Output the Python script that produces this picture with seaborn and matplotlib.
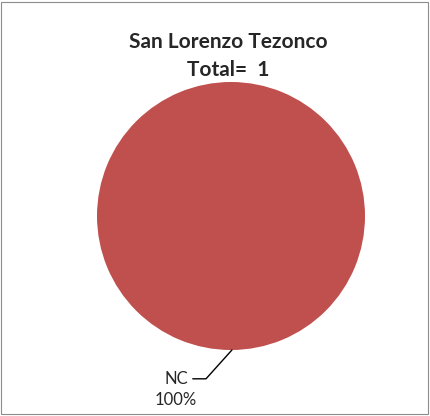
import matplotlib
matplotlib.use("Agg")
import matplotlib.pyplot as plt
import seaborn as sns
from matplotlib.patches import Rectangle

# Chart data
categories = ["NC"]
counts = [1]
site_name = "San Lorenzo Tezonco"

sns.set_style("white")
plt.rcParams['font.family'] = ['Lato', 'DejaVu Sans']

W, H = 430, 416
fig = plt.figure(figsize=(W / 100, H / 100), dpi=100)
fig.patch.set_facecolor("white")

# outer chart border
fig.add_artist(Rectangle((1 / W, 2 / H), 427 / W, 412 / H, transform=fig.transFigure,
                         fill=False, edgecolor="#8c8c8c", linewidth=0.8))

# pie centred at (231, 216) px with radius 134 px
cx, cy, r = 231, H - 216, 134
ax = fig.add_axes([(cx - r) / W, (cy - r) / H, 2 * r / W, 2 * r / H])

total = sum(counts)
ax.pie(counts, colors=["#C0504D"], startangle=90, counterclock=False, radius=1,
       wedgeprops=dict(linewidth=0))
ax.set_xlim(-1, 1)
ax.set_ylim(-1, 1)
ax.axis("off")

pct = [c / total * 100 for c in counts]
for cat, p in zip(categories, pct):
    ax.annotate(f"{cat}", xy=(0.007, -1.0), xytext=(-0.32, -1.215),
                ha="right", va="center", fontsize=12, annotation_clip=False,
                arrowprops=dict(arrowstyle="-", color="black", lw=1,
                                connectionstyle="angle,angleA=0,angleB=48,rad=0",
                                shrinkA=1, shrinkB=0))
    ax.text(-0.41, -1.37, f"{p:.0f}%", ha="center", va="center", fontsize=12)

fig.text(228 / W, 1 - 42 / H, site_name, ha="center", va="center",
         fontsize=15, fontweight="bold")
fig.text(228 / W, 1 - 70 / H, f"Total=  {total}", ha="center", va="center",
         fontsize=15, fontweight="bold")

fig.savefig("out.png", dpi=100)
